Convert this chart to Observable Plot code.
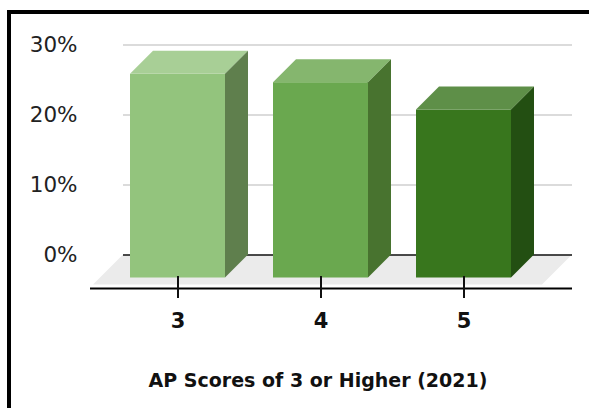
<!DOCTYPE html>
<html><head><meta charset="utf-8">
<script src="https://cdn.jsdelivr.net/npm/d3@7"></script>
<script src="https://cdn.jsdelivr.net/npm/@observablehq/plot@0.6"></script>
<style>
html,body{margin:0;padding:0;background:#fff;overflow:hidden;width:589px;height:408px}
#frame{position:absolute;left:7px;top:10px;width:700px;height:500px;border-top:4px solid #000;border-left:4px solid #000;box-sizing:border-box}
#chart{position:absolute;left:0;top:0}
#title{position:absolute;left:47px;width:542px;top:369px;text-align:center;font:bold 19px "DejaVu Sans";color:#111;line-height:22px}
</style></head><body>
<div id="frame"></div>
<div id="chart"></div>
<div id="title"></div>
<script>
// ---- data ----
const categories = ["3", "4", "5"];
const shares = [29.1, 27.9, 24.0];
const yTicks = [0, 10, 20, 30];
const title = "AP Scores of 3 or Higher (2021)";

// ---- styles ----
const frontColors = ["#93c47d", "#6aa84f", "#38761d"];
const topColors = ["#a8cf96", "#85b66e", "#5e8f48"];
const sideColors = ["#5f7f4d", "#48732f", "#234f12"];
const DEPTH = 23;   // px, bar depth
const FLOOR = 30;   // px, floor depth

const data = categories.map((c, i) => ({score: c, share: shares[i], i}));

function floorMark(index, scales, values, dims) {
  const x0 = dims.marginLeft + 33, x1 = dims.width - dims.marginRight;
  const y0 = scales.y(0);
  return d3.create("svg:path")
    .attr("fill", "#ebebeb")
    .attr("d", `M${x0},${y0}L${x1},${y0}L${x1 - FLOOR},${y0 + FLOOR}L${x0 - FLOOR},${y0 + FLOOR}Z`)
    .node();
}

function facesMark(index, scales) {
  const {x, y} = scales;
  const g = d3.create("svg:g");
  const bw = typeof x.bandwidth === "function" ? x.bandwidth() : x.bandwidth;
  for (const d of data) {
    const xl = x(d.score), xr = xl + bw;
    const yt = y(d.share) + DEPTH, yb = y(0) + DEPTH;
    g.append("path").attr("fill", topColors[d.i])
      .attr("d", `M${xl},${yt}L${xr},${yt}L${xr + DEPTH},${yt - DEPTH}L${xl + DEPTH},${yt - DEPTH}Z`);
    g.append("path").attr("fill", sideColors[d.i])
      .attr("d", `M${xr},${yt}L${xr + DEPTH},${yt - DEPTH}L${xr + DEPTH},${yb - DEPTH}L${xr},${yb}Z`);
  }
  return g.node();
}

const plot = Plot.plot({
  width: 589, height: 340,
  marginLeft: 90, marginRight: 17, marginTop: 44.5, marginBottom: 85.5,
  style: {fontFamily: "DejaVu Sans", fontSize: "21px", color: "#111", background: "transparent", overflow: "visible"},
  x: {domain: categories, range: [100.6, 540.2], paddingInner: 0.338, paddingOuter: 0.2},
  y: {domain: [0, 30]},
  color: {domain: categories, range: frontColors},
  marks: [
    floorMark,
    Plot.gridY(yTicks.slice(1), {insetLeft: 33, stroke: "#cfcfcf", strokeOpacity: 1, strokeWidth: 1.5}),
    Plot.ruleY([0], {insetLeft: 33, stroke: "#111", strokeWidth: 1.5}),
    Plot.barY(data, {x: "score", y: "share", fill: "score", dy: DEPTH}),
    facesMark,
    Plot.ruleY([0], {dy: 33.5, stroke: "#000", strokeWidth: 2}),
    Plot.axisX({tickSize: 22, tickPadding: 15, dy: 21.5, fontWeight: "bold", fontSize: 21, strokeWidth: 2, label: null}),
    Plot.axisY(yTicks, {tickSize: 0, tickPadding: 13, tickFormat: d => d + "%", label: null, fontSize: 21.5, fill: "#222"})
  ]
});
document.getElementById("chart").appendChild(plot);
document.getElementById("title").textContent = title;
</script>
</body></html>
